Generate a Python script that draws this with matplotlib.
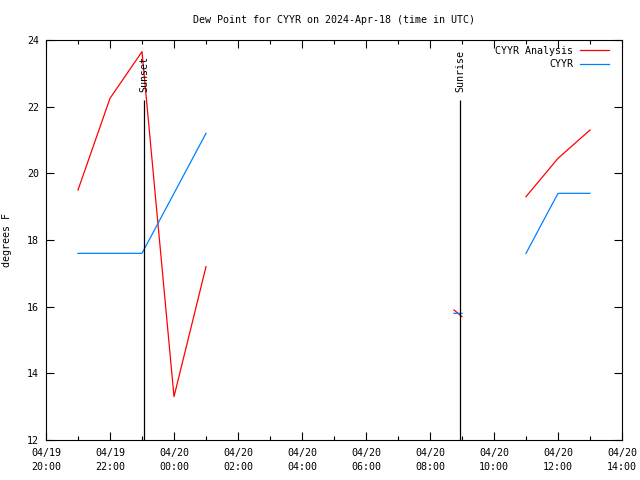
import datetime as dt
import numpy as np
import matplotlib
matplotlib.use('Agg')
import matplotlib.pyplot as plt
import matplotlib.dates as mdates

plt.rcParams['font.family'] = 'DejaVu Sans Mono'
plt.rcParams['font.size'] = 7.2
plt.rcParams['axes.titlesize'] = 7.2

base = dt.datetime(2024, 4, 19, 20, 0)
# hours after 04/19 20:00 UTC
hours = [1, 2, 3, 4, 5, np.nan, 12.75, 13, np.nan, 15, 16, 17]
analysis = [19.5, 22.25, 23.65, 13.3, 17.2, np.nan, 15.9, 15.7, np.nan, 19.3, 20.45, 21.3]
obs = [17.6, 17.6, 17.6, 19.4, 21.2, np.nan, 15.8, 15.8, np.nan, 17.6, 19.4, 19.4]

sunset = base + dt.timedelta(hours=3.06)
sunrise = base + dt.timedelta(hours=12.94)

times = [base + dt.timedelta(hours=h) if not np.isnan(h) else base for h in hours]
times = np.array(times, dtype='datetime64[m]')
analysis = np.array(analysis)
obs = np.array(obs)

fig = plt.figure(figsize=(6.4, 4.8), dpi=100)
ax = fig.add_axes([46/640, 40/480, 576/640, 400/480])

ax.plot(times, analysis, color='#ff0000', linewidth=0.9, label='CYYR Analysis')
ax.plot(times, obs, color='#0080ff', linewidth=0.9, label='CYYR')

for t, name in [(sunset, 'Sunset'), (sunrise, 'Sunrise')]:
    ax.vlines(t, 12, 22.2, color='black', linewidth=0.9)
    ax.text(t, 22.45, name, rotation=90, ha='center', va='bottom')

ax.set_xlim(base, base + dt.timedelta(hours=18))
ax.set_ylim(12, 24)
ax.set_yticks(range(12, 25, 2))
ax.xaxis.set_major_locator(mdates.HourLocator(interval=2))
ax.xaxis.set_minor_locator(mdates.HourLocator())
ax.xaxis.set_major_formatter(mdates.DateFormatter('%m/%d\n%H:%M'))
ax.tick_params(which='both', direction='in', top=True, right=True, width=0.8)
ax.tick_params(which='major', length=6, pad=6)
ax.tick_params(which='minor', length=3)
ax.tick_params(axis='y', pad=5)
fig.canvas.draw()
for lbl in ax.get_xticklabels():
    lbl.set_linespacing(1.5)

ax.set_title('Dew Point for CYYR on 2024-Apr-18 (time in UTC)', pad=12)
ax.set_ylabel('degrees F', labelpad=11)

leg = ax.legend(loc='upper right', bbox_to_anchor=(1 - 4/576, 1 + 3/400),
                frameon=False, markerfirst=False,
                handlelength=2.9, handletextpad=0.7, borderaxespad=0.5,
                labelspacing=0.35)
for txt in leg.get_texts():
    txt.set_ha('right')

fig.savefig('out.png', dpi=100)
